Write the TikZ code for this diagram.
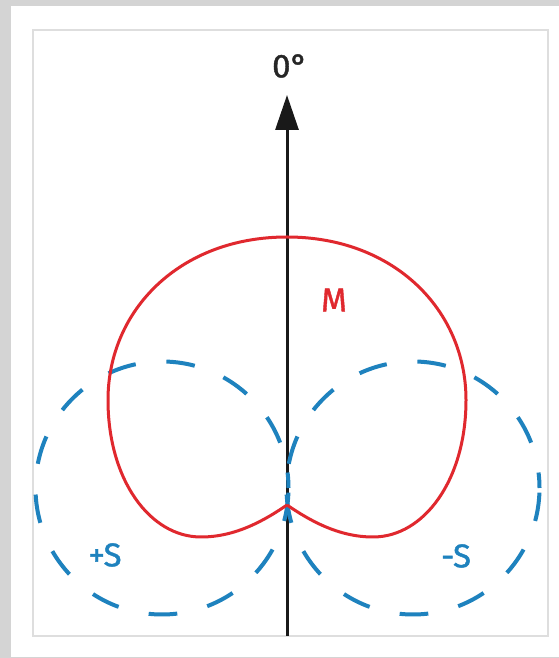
\documentclass[tikz,border=0pt]{standalone}
\usepackage{fontspec}
\setmainfont{Fira Sans}
\newfontfamily\lblfont[FakeBold=1.2]{Fira Sans}
\usetikzlibrary{arrows.meta}
\definecolor{mred}{HTML}{E0282E}
\definecolor{sblue}{HTML}{1E82BE}
\definecolor{bggray}{HTML}{D4D4D4}
\definecolor{boxgray}{HTML}{DEDEDE}
\tikzset{
  figeight/.style={draw=sblue, line width=4pt, dash pattern=on 28.7pt off 30.9pt, dash phase=13.2pt},
  cardioid/.style={draw=mred, line width=3pt},
  axisline/.style={draw=black!90, line width=3pt, -{Triangle[length=35pt,width=23pt]}},
  lbl/.style={font=\lblfont\fontsize{33}{36}\selectfont, inner sep=0pt}
}
\begin{document}
\begin{tikzpicture}[x=1pt,y=1pt]
\useasboundingbox (0,0) rectangle (559,658);
\fill[bggray] (0,0) rectangle (559,658);
\fill[white] (11,1) rectangle (559,652);
\draw[boxgray, line width=1.5pt, fill=white] (33,22) rectangle (548,628);
% axis
\coordinate (abot) at (287,22);
\coordinate (atop) at (287,563);
\draw[axisline] (abot) -- (atop);
\node[lbl, font=\lblfont\fontsize{33}{36}\selectfont, text=black!85] (zero) at (290,592) {0°};
% side (figure-eight) lobes
\coordinate (lc) at (162,170);
\coordinate (rc) at (413,170);
\draw[figeight] (lc) ++(0:126.5) arc[start angle=0, end angle=360, radius=126.5];
\draw[figeight] (rc) ++(0:126.5) arc[start angle=0, end angle=360, radius=126.5];
% mid (cardioid)
\draw[cardioid] (287,153) .. controls (265,138) and (236,121) .. (201,121)
  .. controls (150,121) and (108,178) .. (108,258)
  .. controls (108,348) and (180,421) .. (287,421)
  .. controls (394,421) and (466,348) .. (466,258)
  .. controls (466,178) and (424,121) .. (373,121)
  .. controls (338,121) and (309,138) .. (287,153);
\node[lbl, text=mred] (mlab) at (334,358) {M};
\node[lbl, text=sblue] (plab) at (105,103) {+S};
\node[lbl, text=sblue] (mslab) at (456,102) {-S};
\end{tikzpicture}
\end{document}
